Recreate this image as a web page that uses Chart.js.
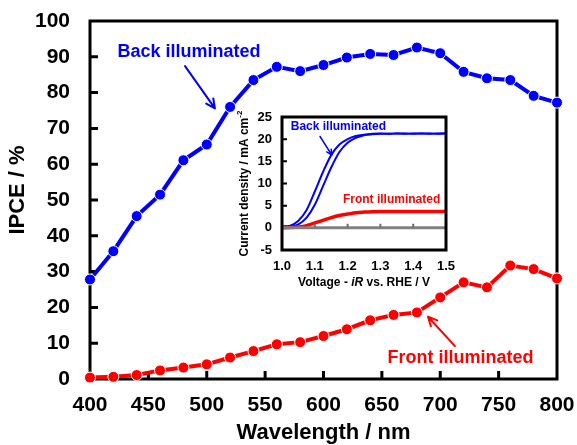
<!DOCTYPE html>
<html>
<head>
<meta charset="utf-8">
<script src="https://cdn.jsdelivr.net/npm/chart.js@4.4.0/dist/chart.umd.min.js"></script>
<style>
  html, body { margin: 0; padding: 0; background: #ffffff; }
  #wrap { position: relative; width: 577px; height: 445px; overflow: hidden; }
  #main { position: absolute; left: 0; top: 0; }
  #inset { position: absolute; left: 230px; top: 100px; }
</style>
</head>
<body>
<div id="wrap">
  <canvas id="main" width="577" height="445"></canvas>
  <canvas id="inset" width="225" height="195"></canvas>
</div>
<script>
// ---- IPCE spectra ----
const wavelengths = [400, 420, 440, 460, 480, 500, 520, 540, 560, 580, 600,
                     620, 640, 660, 680, 700, 720, 740, 760, 780, 800];
const backIPCE  = [27.8, 35.7, 45.5, 51.5, 61.1, 65.5, 76.0, 83.5, 87.2, 86.0, 87.7,
                   89.8, 90.8, 90.5, 92.6, 91.0, 85.8, 84.0, 83.5, 79.1, 77.2];
const frontIPCE = [0.4, 0.6, 1.1, 2.4, 3.2, 4.1, 6.0, 7.8, 9.7, 10.3, 12.0,
                   13.9, 16.4, 17.9, 18.6, 22.8, 27.0, 25.6, 31.7, 30.7, 28.1];
const wavelengthTicks = [400, 450, 500, 550, 600, 650, 700, 750, 800];
const ipceTicks = [0, 10, 20, 30, 40, 50, 60, 70, 80, 90, 100];

// ---- photocurrent (inset) ----
const voltage = [1.000, 1.025, 1.050, 1.075, 1.100, 1.125, 1.150, 1.175, 1.200, 1.225,
                 1.250, 1.275, 1.300, 1.325, 1.350, 1.375, 1.400, 1.425, 1.450, 1.475, 1.500];
const backScanA = [0.3, 0.5, 1.6, 4.0, 8.2, 12.6, 16.4, 18.8, 20.0, 20.7,
                   21.0, 21.2, 21.3, 21.2, 21.3, 21.3, 21.2, 21.3, 21.3, 21.2, 21.3];
const backScanB = [0.2, 0.3, 0.8, 2.3, 5.2, 9.4, 13.6, 17.1, 19.2, 20.3,
                   20.9, 21.1, 21.2, 21.2, 21.3, 21.2, 21.3, 21.3, 21.2, 21.3, 21.3];
const frontScan = [0.0, 0.05, 0.2, 0.5, 1.1, 1.7, 2.3, 2.8, 3.1, 3.4,
                   3.55, 3.65, 3.7, 3.7, 3.7, 3.7, 3.7, 3.7, 3.7, 3.7, 3.7];
const darkVoltage = [1.0, 1.5];
const darkCurrent = [0, 0];
const voltageTicks = [1.0, 1.1, 1.2, 1.3, 1.4, 1.5];
const currentTicks = [-5, 0, 5, 10, 15, 20, 25];

const FONT = "'Liberation Sans', Arial, Helvetica, sans-serif";
const BLUE = '#0000ff';
const RED = '#ff0000';
const pair = (xs, ys) => xs.map((x, i) => ({ x: x, y: ys[i] }));

// keep the plot area fixed: no extra room for overhanging edge labels
function fixSize(prop, size) {
  return s => {
    s[prop] = size;
    s.paddingLeft = s.paddingRight = s.paddingTop = s.paddingBottom = 0;
  };
}

function arrow(ctx, x1, y1, x2, y2, color, width, head) {
  const a = Math.atan2(y2 - y1, x2 - x1);
  ctx.save();
  ctx.strokeStyle = color;
  ctx.lineWidth = width;
  ctx.lineCap = 'round';
  ctx.lineJoin = 'round';
  ctx.beginPath();
  ctx.moveTo(x1, y1);
  ctx.lineTo(x2, y2);
  ctx.moveTo(x2 - head * Math.cos(a - 0.45), y2 - head * Math.sin(a - 0.45));
  ctx.lineTo(x2, y2);
  ctx.lineTo(x2 - head * Math.cos(a + 0.45), y2 - head * Math.sin(a + 0.45));
  ctx.stroke();
  ctx.restore();
}

function label(ctx, text, x, y, color, size) {
  ctx.save();
  ctx.fillStyle = color;
  ctx.font = 'bold ' + size + 'px ' + FONT;
  ctx.textAlign = 'center';
  ctx.textBaseline = 'middle';
  ctx.fillText(text, x, y);
  ctx.restore();
}

// Frame, inward ticks and annotations of the IPCE plot
const ipceDecor = {
  id: 'ipceDecor',
  beforeDatasetsDraw(chart) {
    const { ctx, chartArea: a, scales: { x, y } } = chart;
    ctx.save();
    ctx.strokeStyle = '#000';
    ctx.lineWidth = 3;
    ctx.lineJoin = 'miter';
    ctx.strokeRect(a.left, a.top, a.right - a.left, a.bottom - a.top);
    ctx.beginPath();
    ipceTicks.slice(1, -1).forEach(v => {
      const py = y.getPixelForValue(v);
      ctx.moveTo(a.left, py); ctx.lineTo(a.left + 8, py);
    });
    wavelengthTicks.slice(1, -1).forEach(v => {
      const px = x.getPixelForValue(v);
      ctx.moveTo(px, a.bottom); ctx.lineTo(px, a.bottom - 8);
    });
    ctx.stroke();
    ctx.restore();
  },
  afterDatasetsDraw(chart) {
    const { ctx, chartArea: a, scales: { x, y } } = chart;
    const X = v => x.getPixelForValue(v), Y = v => y.getPixelForValue(v);
    label(ctx, 'Back illuminated', X(484.8), Y(91.3), BLUE, 18);
    arrow(ctx, X(481.4), Y(87.4), X(507), Y(75.6), BLUE, 2, 10);
    label(ctx, 'Front illuminated', X(717.3), Y(5.9), RED, 18);
    arrow(ctx, X(712.6), Y(9.2), X(689.5), Y(17.4), RED, 2, 10);
    // axis titles
    ctx.save();
    ctx.fillStyle = '#000';
    ctx.font = 'bold 22px ' + FONT;
    ctx.textAlign = 'center';
    ctx.textBaseline = 'middle';
    ctx.fillText('Wavelength / nm', (a.left + a.right) / 2, 433);
    ctx.translate(18, 190);
    ctx.rotate(-Math.PI / 2);
    ctx.fillText('IPCE / %', 0, 0);
    ctx.restore();
  }
};

new Chart(document.getElementById('main'), {
  type: 'line',
  data: {
    datasets: [
      { label: 'Back illuminated', data: pair(wavelengths, backIPCE),
        borderColor: BLUE, backgroundColor: BLUE, borderWidth: 4,
        pointRadius: 5.5, pointBackgroundColor: BLUE, pointBorderColor: '#ffffff',
        pointBorderWidth: 1, tension: 0, clip: false },
      { label: 'Front illuminated', data: pair(wavelengths, frontIPCE),
        borderColor: RED, backgroundColor: RED, borderWidth: 4,
        pointRadius: 5.5, pointBackgroundColor: RED, pointBorderColor: '#ffffff',
        pointBorderWidth: 1, tension: 0, clip: false }
    ]
  },
  options: {
    responsive: false, animation: false, devicePixelRatio: 1,
    layout: { padding: { left: 0, right: 20, top: 21, bottom: 0 } },
    plugins: { legend: { display: false }, tooltip: { enabled: false } },
    scales: {
      x: {
        type: 'linear', min: 400, max: 800,
        afterFit: fixSize('height', 66),
        afterBuildTicks: s => { s.ticks = wavelengthTicks.map(v => ({ value: v })); },
        grid: { display: false, drawTicks: false }, border: { display: false },
        ticks: { color: '#000', padding: 14, maxRotation: 0, autoSkip: false,
                 font: { family: FONT, size: 21, weight: 'bold' } }
      },
      y: {
        type: 'linear', min: 0, max: 100,
        afterFit: fixSize('width', 90),
        afterBuildTicks: s => { s.ticks = ipceTicks.map(v => ({ value: v })); },
        grid: { display: false, drawTicks: false }, border: { display: false },
        ticks: { color: '#000', padding: 20, autoSkip: false,
                 font: { family: FONT, size: 21, weight: 'bold' } }
      }
    }
  },
  plugins: [ipceDecor]
});

// Plot background, frame, ticks, titles and labels of the J-V inset
const jvDecor = {
  id: 'jvDecor',
  beforeDatasetsDraw(chart) {
    const { ctx, chartArea: a, scales: { x, y } } = chart;
    ctx.save();
    ctx.fillStyle = '#ffffff';
    ctx.fillRect(a.left, a.top, a.right - a.left, a.bottom - a.top);
    ctx.strokeStyle = '#000';
    ctx.lineWidth = 2;
    ctx.beginPath();
    currentTicks.slice(1, -1).forEach(v => {
      const py = y.getPixelForValue(v);
      ctx.moveTo(a.left, py); ctx.lineTo(a.left + 5, py);
    });
    ctx.stroke();
    ctx.restore();
  },
  afterDatasetsDraw(chart) {
    const { ctx, chartArea: a, scales: { x, y } } = chart;
    const X = v => x.getPixelForValue(v), Y = v => y.getPixelForValue(v);
    ctx.save();
    // ticks on the zero-current line
    ctx.strokeStyle = '#6e6e6e';
    ctx.lineWidth = 2;
    ctx.beginPath();
    voltageTicks.slice(1, -1).forEach(v => {
      ctx.moveTo(X(v), Y(0)); ctx.lineTo(X(v), Y(0) - 4);
    });
    ctx.stroke();
    // frame
    ctx.strokeStyle = '#000';
    ctx.lineWidth = 3;
    ctx.strokeRect(a.left, a.top, a.right - a.left, a.bottom - a.top);
    ctx.restore();

    label(ctx, 'Back illuminated', X(1.172), Y(22.8), BLUE, 12);
    arrow(ctx, X(1.116), Y(20.6), X(1.152), Y(16.4), BLUE, 1.5, 6);
    label(ctx, 'Front illuminated', X(1.334), Y(6.3), RED, 12);

    // x title with italic iR
    ctx.save();
    ctx.fillStyle = '#000';
    ctx.textBaseline = 'middle';
    const parts = [['Voltage - ', 'bold 12px '], ['iR', 'italic bold 12px '], [' vs. RHE / V', 'bold 12px ']];
    let total = 0;
    parts.forEach(p => { ctx.font = p[1] + FONT; total += ctx.measureText(p[0]).width; });
    let cx = (a.left + a.right) / 2 - total / 2;
    parts.forEach(p => {
      ctx.font = p[1] + FONT;
      ctx.textAlign = 'left';
      ctx.fillText(p[0], cx, 183);
      cx += ctx.measureText(p[0]).width;
    });
    // y title with superscript
    ctx.translate(15, (a.top + a.bottom) / 2);
    ctx.rotate(-Math.PI / 2);
    ctx.font = 'bold 12px ' + FONT;
    const main = 'Current density / mA cm';
    const wMain = ctx.measureText(main).width;
    ctx.font = 'bold 8px ' + FONT;
    const wSup = ctx.measureText('-2').width;
    let sx = -(wMain + wSup) / 2;
    ctx.font = 'bold 12px ' + FONT;
    ctx.textAlign = 'left';
    ctx.fillText(main, sx, 0);
    ctx.font = 'bold 8px ' + FONT;
    ctx.fillText('-2', sx + wMain, -5);
    ctx.restore();
  }
};

new Chart(document.getElementById('inset'), {
  type: 'line',
  data: {
    datasets: [
      { label: 'Dark', data: pair(darkVoltage, darkCurrent), borderColor: '#808080',
        borderWidth: 3, pointRadius: 0, tension: 0 },
      { label: 'Front illuminated', data: pair(voltage, frontScan), borderColor: RED,
        borderWidth: 3.5, pointRadius: 0, cubicInterpolationMode: 'monotone' },
      { label: 'Back illuminated (scan 1)', data: pair(voltage, backScanA), borderColor: BLUE,
        borderWidth: 2, pointRadius: 0, cubicInterpolationMode: 'monotone' },
      { label: 'Back illuminated (scan 2)', data: pair(voltage, backScanB), borderColor: BLUE,
        borderWidth: 2, pointRadius: 0, cubicInterpolationMode: 'monotone' }
    ]
  },
  options: {
    responsive: false, animation: false, devicePixelRatio: 1,
    layout: { padding: { left: 0, right: 9, top: 17, bottom: 0 } },
    plugins: { legend: { display: false }, tooltip: { enabled: false } },
    scales: {
      x: {
        type: 'linear', min: 1.0, max: 1.5,
        afterFit: fixSize('height', 45),
        afterBuildTicks: s => { s.ticks = voltageTicks.map(v => ({ value: v })); },
        grid: { display: false, drawTicks: false }, border: { display: false },
        ticks: { color: '#000', padding: 9, maxRotation: 0, autoSkip: false,
                 callback: v => Number(v).toFixed(1),
                 font: { family: FONT, size: 13, weight: 'bold' } }
      },
      y: {
        type: 'linear', min: -5, max: 25,
        afterFit: fixSize('width', 52),
        afterBuildTicks: s => { s.ticks = currentTicks.map(v => ({ value: v })); },
        grid: { display: false, drawTicks: false }, border: { display: false },
        ticks: { color: '#000', padding: 10, autoSkip: false,
                 font: { family: FONT, size: 13, weight: 'bold' } }
      }
    }
  },
  plugins: [jvDecor]
});
</script>
</body>
</html>
